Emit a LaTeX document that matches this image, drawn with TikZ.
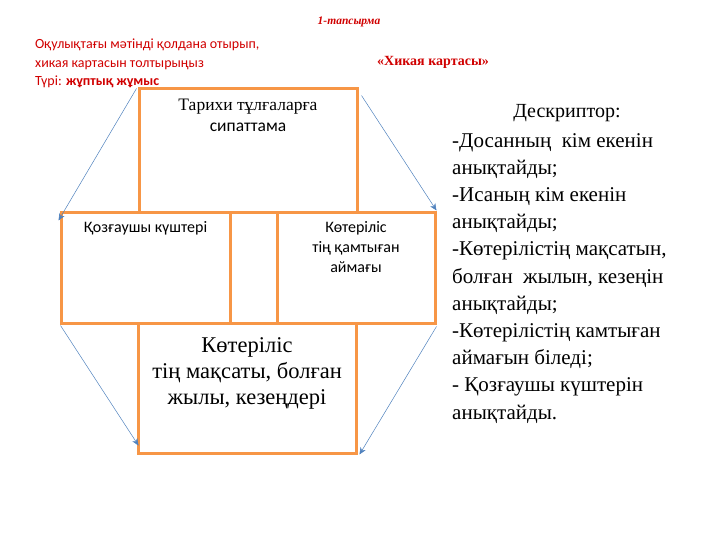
\documentclass[tikz,border=0pt]{standalone}
\usepackage{fontspec}
\setmainfont{Liberation Serif}
\newfontfamily\carlito{Carlito}
\usetikzlibrary{positioning}
\usetikzlibrary{arrows.meta}
\definecolor{boxorange}{HTML}{F79646}
\definecolor{arrowblue}{HTML}{4F81BD}
\definecolor{taskred}{HTML}{D00000}
\tikzset{>={Stealth[length=7pt, width=6pt]}}
\tikzstyle{mapbox} = [rectangle, draw=boxorange, line width=3pt, inner sep=0pt]
\tikzstyle{maparrow} = [->, draw=arrowblue, line width=0.5pt]

\begin{document}
\begin{tikzpicture}[x=1pt, y=-1pt]
\useasboundingbox (0,0) rectangle (720,540);
% header
\node [text=taskred, font=\bfseries\itshape\fontsize{11.5}{12}\selectfont] (task) at (349, 22) {1-тапсырма};
\node [text=taskred, anchor=north west, align=left, inner sep=0pt, font=\carlito\fontsize{14}{18.5}\selectfont] (intro) at (35, 39) {Оқулықтағы мәтінді қолдана отырып,\\ хикая картасын толтырыңыз\\ Түрі: \textbf{жұптық жұмыс}};
\node [text=taskred, anchor=west, inner sep=0pt, font=\bfseries\fontsize{14}{15}\selectfont] (title) at (377, 62) {«Хикая картасы»};
% map boxes
\node [mapbox, minimum width=218, minimum height=124] (hist) at (248, 151) {};
\node [mapbox, minimum width=169, minimum height=110] (forces) at (145.5, 268) {};
\node [mapbox, minimum width=47, minimum height=110] (gap) at (253.5, 268) {};
\node [mapbox, minimum width=158, minimum height=110] (region) at (356, 268) {};
\node [mapbox, minimum width=218, minimum height=130] (result) at (247, 388) {};
\node [below=11pt of hist.north, align=center, inner sep=0pt, font=\fontsize{17.5}{21}\selectfont] (histtext) {Тарихи тұлғаларға\\ {\carlito сипаттама}};
\node [below=10pt of forces.north, align=center, inner sep=0pt, font=\carlito\fontsize{16}{20}\selectfont] (forcestext) {Қозғаушы күштері};
\node [below=10pt of region.north, align=center, inner sep=0pt, font=\carlito\fontsize{16}{20}\selectfont] (regiontext) {Көтеріліс\\ тің қамтыған\\ аймағы};
\node [below=16pt of result.north, align=center, inner sep=0pt, font=\fontsize{22.5}{26}\selectfont] (resulttext) {Көтеріліс\\ тің мақсаты, болған\\ жылы, кезеңдері};
% arrows
\draw [maparrow] ([shift={(-1,1)}]hist.north west) -- ([shift={(-1,9)}]forces.north west);
\draw [maparrow] ([shift={(3,8)}]hist.north east) -- ([shift={(0,-1)}]region.north east);
\draw [maparrow] ([shift={(1,1)}]forces.south west) -- ([shift={(2,-9)}]result.south west);
\draw [maparrow] ([shift={(0,2)}]region.south east) -- ([shift={(2,0)}]result.south east);
% descriptor
\node [font=\fontsize{20}{22}\selectfont] (desctitle) at (567, 113) {Дескриптор:};
\node [anchor=north west, align=left, inner sep=0pt, font=\fontsize{21}{27.2}\selectfont] (desclist) at (452, 133) {-Досанның\ \ кім екенін\\ анықтайды;\\ -Исаның кім екенін\\ анықтайды;\\ -Көтерілістің мақсатын,\\ болған\ \ жылын, кезеңін\\ анықтайды;\\ -Көтерілістің камтыған\\ аймағын біледі;\\ - Қозғаушы күштерін\\ анықтайды.};
\end{tikzpicture}
\end{document}
